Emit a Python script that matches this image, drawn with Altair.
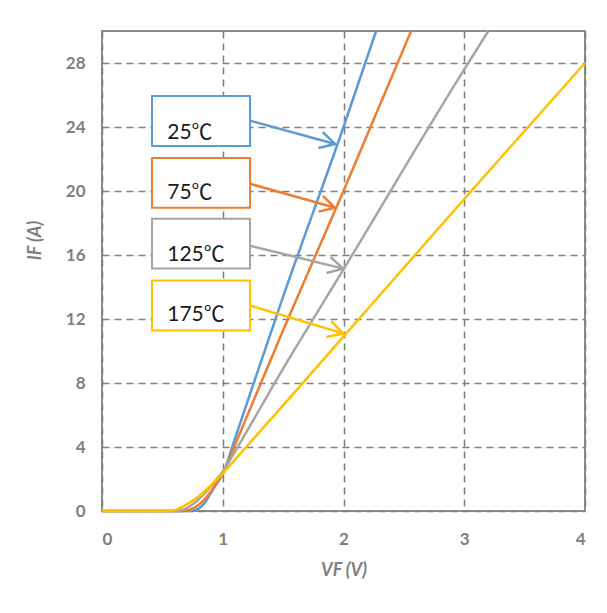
import altair as alt
import pandas as pd

# ---- data ----
temps = ["25℃", "75℃", "125℃", "175℃"]
colors = ["#5B9BD5", "#ED7D31", "#A5A5A5", "#FFC000"]

vf_25 = [0, 0.72, 0.80, 0.85, 0.90, 0.95, 1.00, 1.10, 1.50, 2.00, 2.27]
if_25 = [0, 0, 0.15, 0.5, 1.1, 1.7, 2.3, 4.5, 13.4, 24.0, 30.0]

vf_75 = [0, 0.68, 0.75, 0.82, 0.90, 0.95, 1.00, 1.10, 1.50, 2.00, 2.56]
if_75 = [0, 0, 0.15, 0.5, 1.2, 1.8, 2.3, 4.1, 11.3, 20.0, 30.0]

vf_125 = [0, 0.60, 0.68, 0.75, 0.85, 0.95, 1.00, 1.10, 1.50, 2.00, 3.00, 3.20]
if_125 = [0, 0, 0.1, 0.4, 1.1, 2.0, 2.45, 3.7, 8.9, 15.1, 27.6, 30.0]

vf_175 = [0, 0.55, 0.62, 0.70, 0.80, 0.90, 1.00, 1.10, 1.50, 2.00, 3.00, 4.00]
if_175 = [0, 0, 0.1, 0.4, 0.9, 1.6, 2.35, 3.2, 6.6, 10.9, 19.5, 28.0]

x_ticks = [0, 1, 2, 3, 4]
y_ticks = [0, 4, 8, 12, 16, 20, 24, 28]

# annotation boxes / arrows (in data units)
box_x = [0.414, 0.414, 0.414, 0.414]
box_x2 = [1.226, 1.226, 1.226, 1.226]
box_top = [25.94, 22.07, 18.27, 14.40]
box_bottom = [22.82, 18.95, 15.15, 11.28]
label_x = [0.54, 0.54, 0.54, 0.54]
label_y = [23.25, 19.50, 15.65, 11.90]
arrow_x = [1.226, 1.226, 1.226, 1.226]
arrow_y = [24.40, 20.45, 16.58, 12.84]
arrow_x2 = [1.93, 1.93, 1.997, 1.997]
arrow_y2 = [22.94, 18.95, 15.15, 11.10]
arrow_angle = [15.1, 15.8, 13.9, 16.8]

# ---- tables ----
rows = []
for t, xs_, ys_ in zip(temps, [vf_25, vf_75, vf_125, vf_175], [if_25, if_75, if_125, if_175]):
    for i, (a, b) in enumerate(zip(xs_, ys_)):
        rows.append({"temp": t, "vf": a, "cur": b, "order": i})
curves = pd.DataFrame(rows)

ann = pd.DataFrame({
    "temp": temps, "bx": box_x, "bx2": box_x2, "bt": box_top, "bb": box_bottom,
    "lx": label_x, "ly": label_y, "ax": arrow_x, "ay": arrow_y,
    "ax2": arrow_x2, "ay2": arrow_y2, "angle": arrow_angle,
})

xs = alt.Scale(domain=[0, 4], nice=False, zero=False)
ys = alt.Scale(domain=[0, 30], nice=False, zero=False)
cs = alt.Scale(domain=temps, range=colors)

gray = "#7f7f7f"

lines = alt.Chart(curves).mark_line(strokeWidth=2.5, interpolate="monotone").encode(
    x=alt.X("vf:Q", scale=xs, title="VF (V)",
            axis=alt.Axis(values=x_ticks, format="d", labelPadding=20, titlePadding=14)),
    y=alt.Y("cur:Q", scale=ys, title="IF (A)",
            axis=alt.Axis(values=y_ticks, format="d", labelPadding=17,
                          titleX=-58, titleY=209)),
    color=alt.Color("temp:N", scale=cs, legend=None),
    order="order:Q",
)

arrows = alt.Chart(ann).mark_rule(strokeWidth=2.5).encode(
    x=alt.X("ax:Q", scale=xs), y=alt.Y("ay:Q", scale=ys),
    x2="ax2:Q", y2="ay2:Q",
    color=alt.Color("temp:N", scale=cs, legend=None),
)

heads = alt.Chart(ann).mark_point(
    shape="M -1 -0.55 L 0 0 L -1 0.55", filled=False, size=900, strokeWidth=2.5, opacity=1
).encode(
    x=alt.X("ax2:Q", scale=xs), y=alt.Y("ay2:Q", scale=ys),
    angle=alt.Angle("angle:Q", scale=None),
    color=alt.Color("temp:N", scale=cs, legend=None),
)

boxes = alt.Chart(ann).mark_rect(fill="white", strokeWidth=2).encode(
    x=alt.X("bx:Q", scale=xs), x2="bx2:Q",
    y=alt.Y("bt:Q", scale=ys), y2="bb:Q",
    stroke=alt.Stroke("temp:N", scale=cs, legend=None),
)

texts = alt.Chart(ann).mark_text(
    align="left", baseline="alphabetic", fontSize=21, color="#1a1a1a",
    font="Lato, Noto Sans CJK JP"
).encode(
    x=alt.X("lx:Q", scale=xs), y=alt.Y("ly:Q", scale=ys), text="temp:N",
)

chart = alt.layer(lines, arrows, boxes, texts, heads).properties(
    width=483, height=480,
    padding={"left": 94, "top": 23, "right": 14, "bottom": 80},
    autosize=alt.AutoSizeParams(type="none"),
    background="white",
).configure_view(
    stroke="#8c8c8c", strokeWidth=2,
).configure_axis(
    domain=False, ticks=False,
    grid=True, gridColor=gray, gridDash=[7, 5], gridWidth=1.5,
    labelColor=gray, labelFont="Lato", labelFontSize=17, labelFontWeight="bold",
    titleColor=gray, titleFont="Lato", titleFontSize=18, titleFontWeight="bold",
    titleFontStyle="italic",
)

chart.save("out.html", embed_options={"renderer": "svg", "actions": False})
